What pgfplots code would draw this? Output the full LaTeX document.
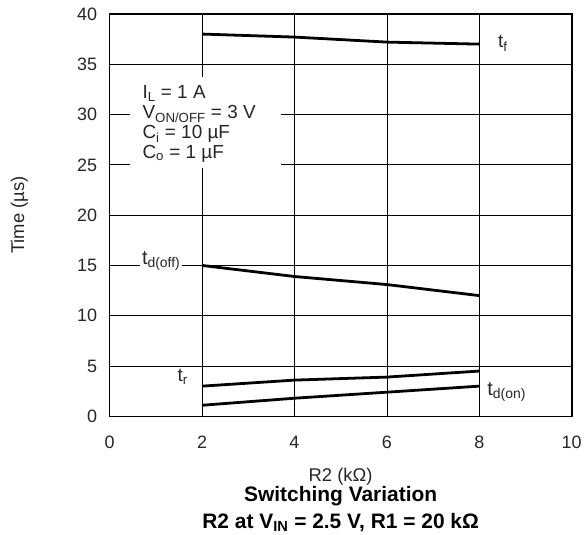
\documentclass[border=0pt]{standalone}
\usepackage{pgfplots}
\pgfplotsset{compat=1.18}
\usepackage{fontspec}
\setmainfont{Liberation Sans}

\begin{document}
\begin{tikzpicture}
\begin{axis}[
    scale only axis,
    width=464pt, height=404pt,
    xmin=0, xmax=10, ymin=0, ymax=40,
    xtick={0,2,...,10}, ytick={0,5,...,40},
    grid=major,
    major grid style={black, line width=0.7pt},
    axis line style={line width=1.6pt},
    tick style={draw=none},
    /pgf/number format/assume math mode=true,
    tick label style={font=\fontsize{18}{20}\selectfont, text=black!85},
    xticklabel style={yshift=-16pt},
    yticklabel style={xshift=-9pt},
    label style={font=\fontsize{18.5}{20}\selectfont, text=black!85},
    ylabel={Time (µs)},
    ylabel style={at={(axis description cs:-0.195,0.5)}, anchor=center},
    xlabel={R2 (kΩ)},
    xlabel style={at={(axis description cs:0.5,0)}, anchor=base, yshift=-65pt},
]
% t_f
\addplot[black, line width=2.8pt, no marks] coordinates {(2,38.0) (4,37.7) (6,37.2) (8,37.0)};
% t_d(off)
\addplot[black, line width=2.8pt, no marks] coordinates {(2,15.0) (4,13.9) (6,13.1) (8,12.0)};
% t_r
\addplot[black, line width=2.8pt, no marks] coordinates {(2,3.0) (4,3.6) (6,3.9) (8,4.5)};
% t_d(on)
\addplot[black, line width=2.8pt, no marks] coordinates {(2,1.1) (4,1.8) (6,2.4) (8,3.0)};

\node[fill=white, inner sep=0pt, minimum width=152pt, minimum height=92pt] at (axis cs:2.07,29.2) {};
\node[anchor=north west, align=left, font=\fontsize{19}{20}\selectfont, text=black!85, inner sep=0pt]
  at (axis cs:0.71,32.9) {I\textsubscript{L} = 1 A\\V\textsubscript{ON/OFF} = 3 V\\C\textsubscript{i} = 10 µF\\C\textsubscript{o} = 1 µF};
\node[font=\fontsize{19}{20}\selectfont, text=black!85, anchor=west, inner sep=1pt] at (axis cs:8.38,37.1) {t\textsubscript{f}};
\node[font=\fontsize{20}{20}\selectfont, text=black!85, anchor=east, fill=white, inner sep=2pt] at (axis cs:1.58,15.4) {t\textsubscript{d(off)}};
\node[font=\fontsize{19}{20}\selectfont, text=black!85, anchor=east, fill=white, inner sep=1pt] at (axis cs:1.72,3.9) {t\textsubscript{r}};
\node[font=\fontsize{20}{20}\selectfont, text=black!85, anchor=west, fill=white, inner sep=1pt] at (axis cs:8.15,2.4) {t\textsubscript{d(on)}};
\end{axis}
\node[anchor=base, font=\fontsize{21}{24}\selectfont\bfseries, inner sep=0pt] at ([yshift=-86pt]current axis.south) {Switching Variation};
\node[anchor=base, font=\fontsize{21}{24}\selectfont\bfseries, inner sep=0pt] at ([yshift=-113pt]current axis.south) {R2 at V\textsubscript{IN} = 2.5 V, R1 = 20 kΩ};
\useasboundingbox ([shift={(-110pt,-119pt)}]current axis.south west) rectangle ([shift={(11pt,14pt)}]current axis.north east);
\end{tikzpicture}
\end{document}
